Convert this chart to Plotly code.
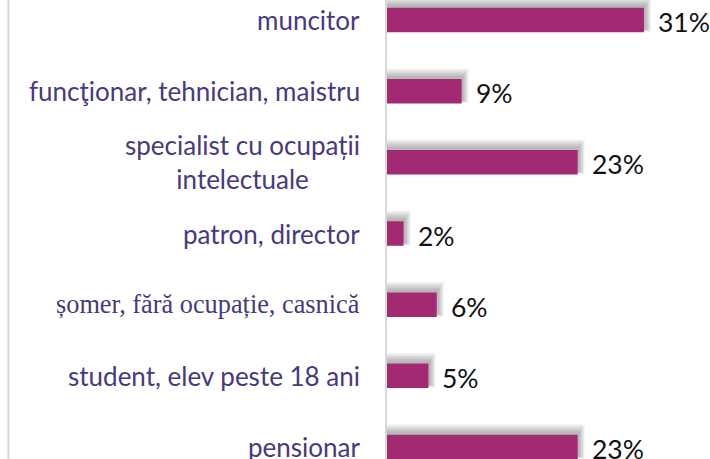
import plotly.graph_objects as go

categories = [
    "muncitor",
    "funcţionar, tehnician, maistru",
    "specialist cu ocupații<br>intelectuale",
    "patron, director",
    "șomer, fără ocupație, casnică",
    "student, elev peste 18 ani",
    "pensionar",
]
values = [31, 9, 23, 2, 6, 5, 23]
value_labels = ["31%", "9%", "23%", "2%", "6%", "5%", "23%"]
label_fonts = ["Lato", "Lato", "Lato", "Lato", "Liberation Serif", "Lato", "Lato"]

W, H = 710, 459
plot_left = 387
x_max = (W - plot_left) / 8.29
y_range = [6.168, -0.281]
px_per_cat = H / (y_range[0] - y_range[1])
px_per_unit = (W - plot_left) / x_max

bar_color = "#a32a72"
text_purple = "#463a80"
bar_w = 24.5 / px_per_cat

fig = go.Figure()

# soft shadow layers (up-right offset, blurred)
for k in range(6):
    e = k * 1.0
    w = bar_w + 2 * e / px_per_cat
    fig.add_trace(go.Bar(
        y=categories, x=[v + (2.0 + e) / px_per_unit for v in values],
        orientation="h", width=w, offset=-w / 2 - (3.0 + e * 0.5) / px_per_cat,
        marker=dict(color="rgba(0,0,0,0.05)", line=dict(width=0)),
        hoverinfo="skip", showlegend=False,
    ))

fig.add_trace(go.Bar(
    y=categories, x=values, orientation="h", width=bar_w, offset=-bar_w / 2,
    marker=dict(color=bar_color, line=dict(width=0)), showlegend=False,
))

annotations = []
for c, v, t in zip(categories, values, value_labels):
    annotations.append(dict(
        x=v, y=c, xref="x", yref="y", text=t, showarrow=False,
        xanchor="left", yanchor="middle", xshift=12, yshift=-2,
        font=dict(family="Lato", size=26.5, color="#111111"),
    ))
for c, f in zip(categories, label_fonts):
    annotations.append(dict(
        x=0, y=c, xref="x", yref="y", text=c, showarrow=False,
        xanchor="right", yanchor="middle", xshift=-25, align="center",
        font=dict(family=f, size=26 if f == "Lato" else 26.3, color=text_purple),
    ))

fig.update_layout(
    width=W, height=H,
    margin=dict(l=0, r=0, t=0, b=0),
    paper_bgcolor="white", plot_bgcolor="white",
    barmode="overlay",
    xaxis=dict(domain=[plot_left / W, 1], range=[0, x_max], visible=False,
               showgrid=False, zeroline=False),
    yaxis=dict(type="category", range=y_range, showticklabels=False,
               showgrid=False, zeroline=False, showline=True,
               linecolor="#d9d9d9", linewidth=2, ticks=""),
    annotations=annotations,
    shapes=[dict(type="line", xref="paper", yref="paper", x0=8.5 / W, x1=8.5 / W,
                 y0=0, y1=1, line=dict(color="#d6d6d6", width=2))],
)

fig.write_html("out.html", config={"displayModeBar": False},
               post_script="document.body.style.margin='0';document.body.style.overflow='hidden';")
